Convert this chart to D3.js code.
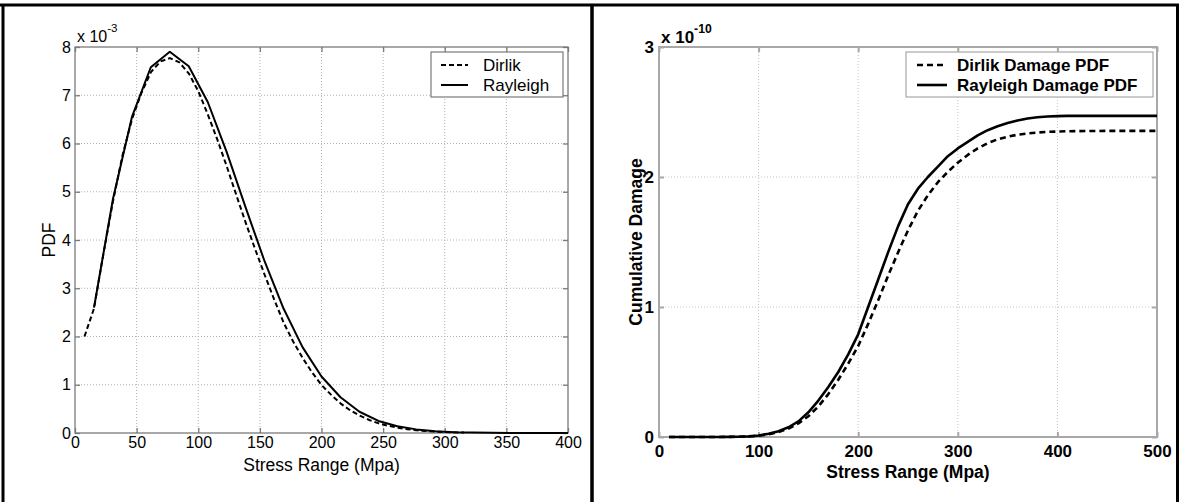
<!DOCTYPE html>
<html>
<head>
<meta charset="utf-8">
<script src="https://cdn.jsdelivr.net/npm/d3@7"></script>
<style>
  body { margin: 0; background: #fff; }
  svg { display: block; }
</style>
</head>
<body>
<svg id="chart" width="1179" height="502"></svg>
<script>

// ---- left panel data (PDF, units of 1e-3) ----
const pdfXTicks = [0, 50, 100, 150, 200, 250, 300, 350, 400];
const pdfYTicks = [0, 1, 2, 3, 4, 5, 6, 7, 8];

const dirlikStress = [7.7, 15.4, 23.1, 30.8, 38.5, 46.2, 53.9, 61.6, 69.3, 77.0, 84.7, 92.4, 100.1,
  107.8, 115.5, 123.2, 130.9, 138.6, 146.3, 154.0, 161.7, 169.4, 177.1, 184.8, 192.5, 200.2,
  207.9, 215.6, 223.3, 231.0, 238.7, 246.4, 254.1, 261.8, 269.5, 277.2, 284.9, 292.6, 300.3, 308.0, 315.7];
const dirlikPdf = [2.0, 2.58, 3.72, 4.8, 5.75, 6.5, 7.05, 7.48, 7.7, 7.77, 7.68, 7.45, 7.08,
  6.6, 6.08, 5.52, 4.93, 4.35, 3.8, 3.27, 2.76, 2.28, 1.89, 1.55, 1.25, 0.99,
  0.79, 0.61, 0.47, 0.36, 0.27, 0.2, 0.15, 0.11, 0.08, 0.057, 0.04, 0.028, 0.02, 0.014, 0.01];

const rayleighStress = [15.4, 30.8, 46.2, 61.5, 76.9, 92.3, 107.7, 123.1, 138.5, 153.8, 169.2, 184.6, 200,
  215.4, 230.8, 246.2, 261.5, 276.9, 292.3, 307.7, 323.1, 338.5, 353.8, 369.2, 384.6, 400];
const rayleighPdf = [2.6, 4.85, 6.55, 7.58, 7.9, 7.6, 6.86, 5.82, 4.67, 3.56, 2.58, 1.78, 1.17,
  0.74, 0.44, 0.25, 0.14, 0.075, 0.037, 0.018, 0.008, 0.004, 0.002, 0.001, 0.0005, 0.0002];

// ---- right panel data (cumulative damage, units of 1e-10) ----
const damageXTicks = [0, 100, 200, 300, 400, 500];
const damageYTicks = [0, 1, 2, 3];

const damageStress = [10, 20, 30, 40, 50, 60, 70, 80, 90, 100, 110, 120, 130, 140, 150, 160, 170, 180, 190, 200,
  210, 220, 230, 240, 250, 260, 270, 280, 290, 300, 310, 320, 330, 340, 350, 360, 370, 380, 390, 400,
  410, 420, 430, 440, 450, 460, 470, 480, 490, 500];
const dirlikDamage = [0, 0, 0, 0, 0, 0, 0.001, 0.002, 0.004, 0.01, 0.02, 0.038, 0.065, 0.105, 0.16, 0.235, 0.33, 0.44, 0.565, 0.7,
  0.87, 1.05, 1.24, 1.42, 1.59, 1.74, 1.86, 1.96, 2.04, 2.11, 2.17, 2.22, 2.26, 2.29, 2.31, 2.325, 2.335, 2.342, 2.347, 2.35,
  2.352, 2.353, 2.354, 2.354, 2.355, 2.355, 2.355, 2.355, 2.355, 2.355];
const rayleighDamage = [0, 0, 0, 0, 0, 0, 0.001, 0.002, 0.005, 0.012, 0.025, 0.045, 0.075, 0.12, 0.19, 0.28, 0.385, 0.5, 0.635, 0.79,
  1.0, 1.21, 1.42, 1.62, 1.79, 1.91, 2.0, 2.08, 2.16, 2.22, 2.27, 2.32, 2.36, 2.39, 2.415, 2.435, 2.45, 2.46, 2.465, 2.468,
  2.47, 2.47, 2.47, 2.47, 2.47, 2.47, 2.47, 2.47, 2.47, 2.47];

const svg = d3.select('#chart');

// outer frame (table cell borders)
const frame = svg.append('g').attr('stroke', '#000');
frame.append('line').attr('x1', 0).attr('x2', 1179).attr('y1', 5).attr('y2', 5).attr('stroke-width', 3);
frame.append('line').attr('x1', 3).attr('x2', 3).attr('y1', 4).attr('y2', 502).attr('stroke-width', 3);
frame.append('line').attr('x1', 592).attr('x2', 592).attr('y1', 4).attr('y2', 502).attr('stroke-width', 3.5);
frame.append('line').attr('x1', 1177.5).attr('x2', 1177.5).attr('y1', 4).attr('y2', 502).attr('stroke-width', 3);

// draws one matlab-style panel
const drawPanel = (cfg) => {
  const { x, y } = cfg;
  const g = svg.append('g')
      .attr('font-family', '"Liberation Sans", Arial, sans-serif')
      .attr('font-weight', cfg.bold ? 'bold' : 'normal');
  const [x0, x1] = x.range();
  const [y0, y1] = y.range();
  const fmt = d3.format('d');

  // grid
  g.append('g').selectAll('line')
      .data(cfg.xTicks.slice(1, -1))
      .enter().append('line')
      .attr('x1', d => x(d)).attr('x2', d => x(d))
      .attr('y1', y0).attr('y2', y1)
      .attr('stroke', cfg.gridColor).attr('stroke-width', 1)
      .attr('stroke-dasharray', '1,2');
  g.append('g').selectAll('line')
      .data(cfg.yTicks.slice(1, -1))
      .enter().append('line')
      .attr('x1', x0).attr('x2', x1)
      .attr('y1', d => y(d)).attr('y2', d => y(d))
      .attr('stroke', cfg.gridColor).attr('stroke-width', 1)
      .attr('stroke-dasharray', '1,2');

  // axes with inward ticks
  const bottom = g.append('g').attr('transform', `translate(0,${y0})`)
      .call(d3.axisBottom(x).tickValues(cfg.xTicks).tickFormat(fmt).tickSizeInner(-5).tickSizeOuter(0).tickPadding(cfg.xPad));
  const top = g.append('g').attr('transform', `translate(0,${y1})`)
      .call(d3.axisTop(x).tickValues(cfg.xTicks).tickSizeInner(-5).tickSizeOuter(0).tickFormat(''));
  const left = g.append('g').attr('transform', `translate(${x0},0)`)
      .call(d3.axisLeft(y).tickValues(cfg.yTicks).tickFormat(fmt).tickSizeInner(-5).tickSizeOuter(0).tickPadding(cfg.yPad));
  const right = g.append('g').attr('transform', `translate(${x1},0)`)
      .call(d3.axisRight(y).tickValues(cfg.yTicks).tickSizeInner(-5).tickSizeOuter(0).tickFormat(''));
  [bottom, top, left, right].forEach(a => {
    a.select('.domain').remove();
    a.selectAll('line').attr('stroke', cfg.axisColor).attr('stroke-width', cfg.axisWidth);
    a.selectAll('text').attr('font-size', cfg.tickSize).attr('fill', '#000')
        .attr('font-family', null);
  });
  g.append('rect')
      .attr('x', x0).attr('y', y1)
      .attr('width', x1 - x0).attr('height', y0 - y1)
      .attr('fill', 'none').attr('stroke', cfg.axisColor).attr('stroke-width', cfg.axisWidth);

  // curves
  const line = d3.line().x(d => x(d[0])).y(d => y(d[1]));
  cfg.series.forEach(s => {
    g.append('path')
        .datum(d3.zip(s.xs, s.ys))
        .attr('d', line)
        .attr('fill', 'none')
        .attr('stroke', '#000')
        .attr('stroke-width', cfg.lineWidth)
        .attr('stroke-linejoin', 'round')
        .attr('stroke-dasharray', s.dash);
  });

  // exponent label
  const ex = g.append('text')
      .attr('x', x0 + 2).attr('y', cfg.expY)
      .attr('font-size', cfg.tickSize);
  ex.append('tspan').text('x 10');
  ex.append('tspan').attr('dy', -10).attr('font-size', cfg.tickSize * 0.72).text(cfg.exponent);

  // axis titles
  g.append('text')
      .attr('x', (x0 + x1) / 2).attr('y', cfg.xTitleY)
      .attr('text-anchor', 'middle').attr('dominant-baseline', 'central')
      .attr('font-size', cfg.titleSize)
      .text(cfg.xTitle);
  g.append('text')
      .attr('transform', `translate(${cfg.yTitleX},${(y0 + y1) / 2}) rotate(-90)`)
      .attr('text-anchor', 'middle').attr('dominant-baseline', 'central')
      .attr('font-size', cfg.titleSize)
      .text(cfg.yTitle);

  // legend
  const lg = cfg.legend;
  const leg = g.append('g');
  leg.append('rect')
      .attr('x', lg.x).attr('y', lg.y).attr('width', lg.w).attr('height', lg.h)
      .attr('fill', '#fff').attr('stroke', cfg.axisColor).attr('stroke-width', 1.2);
  cfg.series.forEach((s, i) => {
    const ly = lg.y + 13 + i * 20;
    leg.append('line')
        .attr('x1', lg.x + lg.lineX0).attr('x2', lg.x + lg.lineX1)
        .attr('y1', ly).attr('y2', ly)
        .attr('stroke', '#000').attr('stroke-width', cfg.lineWidth)
        .attr('stroke-dasharray', s.dash);
    leg.append('text')
        .attr('x', lg.x + lg.textX).attr('y', ly)
        .attr('dominant-baseline', 'central')
        .attr('font-size', lg.fontSize)
        .text(s.name);
  });
};

drawPanel({
  x: d3.scaleLinear().domain([0, 400]).range([75, 568]),
  y: d3.scaleLinear().domain([0, 8]).range([433, 47]),
  xTicks: pdfXTicks,
  yTicks: pdfYTicks,
  bold: false,
  gridColor: '#b0b0b0',
  axisColor: '#7a7a7a',
  axisWidth: 1.3,
  tickSize: 16,
  xPad: 4,
  yPad: 4,
  lineWidth: 2,
  exponent: '-3',
  expY: 42,
  titleSize: 17.5,
  xTitle: 'Stress Range (Mpa)',
  xTitleY: 465,
  yTitle: 'PDF',
  yTitleX: 49,
  series: [
    { name: 'Dirlik', xs: dirlikStress, ys: dirlikPdf, dash: '5,3' },
    { name: 'Rayleigh', xs: rayleighStress, ys: rayleighPdf, dash: null }
  ],
  legend: { x: 431, y: 52, w: 132, h: 45, lineX0: 10, lineX1: 37, textX: 52, fontSize: 17 }
});

drawPanel({
  x: d3.scaleLinear().domain([0, 500]).range([659, 1157]),
  y: d3.scaleLinear().domain([0, 3]).range([437, 47]),
  xTicks: damageXTicks,
  yTicks: damageYTicks,
  bold: true,
  gridColor: '#c4c4c4',
  axisColor: '#a8a8a8',
  axisWidth: 2,
  tickSize: 17,
  xPad: 8,
  yPad: 5,
  lineWidth: 2.6,
  exponent: '-10',
  expY: 43,
  titleSize: 17.5,
  xTitle: 'Stress Range (Mpa)',
  xTitleY: 472,
  yTitle: 'Cumulative Damage',
  yTitleX: 636,
  series: [
    { name: 'Dirlik Damage PDF', xs: damageStress, ys: dirlikDamage, dash: '6,4' },
    { name: 'Rayleigh Damage PDF', xs: damageStress, ys: rayleighDamage, dash: null }
  ],
  legend: { x: 906, y: 52, w: 247, h: 45, lineX0: 11, lineX1: 41, textX: 51, fontSize: 17 }
});

</script>
</body>
</html>
